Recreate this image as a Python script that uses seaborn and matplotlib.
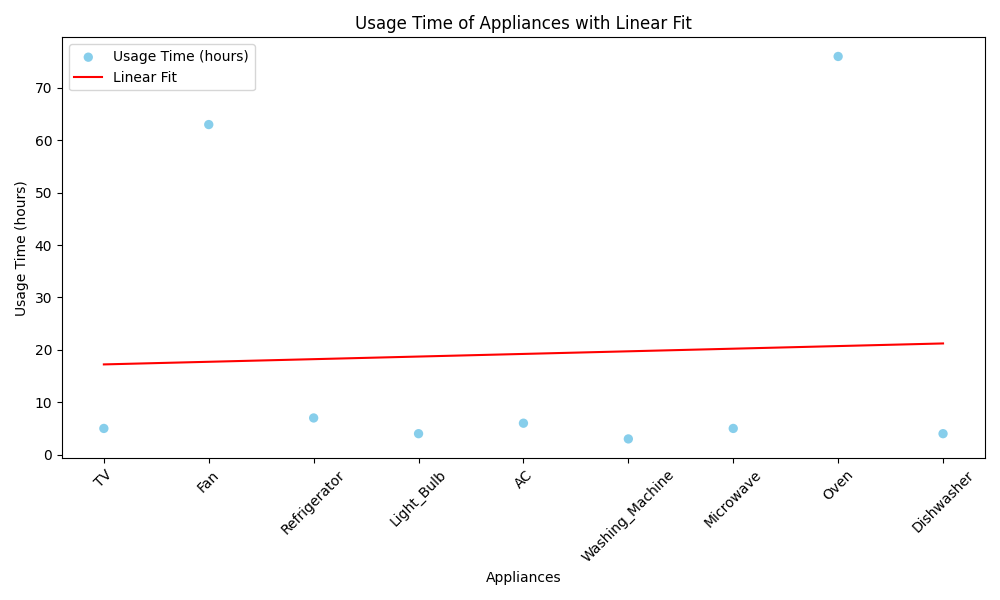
import numpy as np
import pandas as pd
import seaborn as sns
from matplotlib import pyplot as plt

appliances = ["TV", "Fan", "Refrigerator", "Light_Bulb", "AC",
              "Washing_Machine", "Microwave", "Oven", "Dishwasher"]
usage_hours = [5, 63, 7, 4, 6, 3, 5, 76, 4]

df = pd.DataFrame({"Appliances": appliances, "Usage": usage_hours})
xs = np.arange(len(appliances))

# least squares line over the category index
slope, intercept = np.polyfit(xs, df["Usage"], 1)
fit = slope * xs + intercept

fig, ax = plt.subplots(figsize=(10, 6))
sns.scatterplot(x=xs, y=df["Usage"], ax=ax, color="skyblue", s=45,
                edgecolor="none", label="Usage Time (hours)")
sns.lineplot(x=xs, y=fit, ax=ax, color="red", label="Linear Fit")

ax.set_xticks(xs)
ax.set_xticklabels(appliances, rotation=45)
ax.set_xlabel("Appliances")
ax.set_ylabel("Usage Time (hours)")
ax.set_title("Usage Time of Appliances with Linear Fit")
ax.legend(loc="upper left")

fig.tight_layout()
fig.savefig("out.png", dpi=100)
